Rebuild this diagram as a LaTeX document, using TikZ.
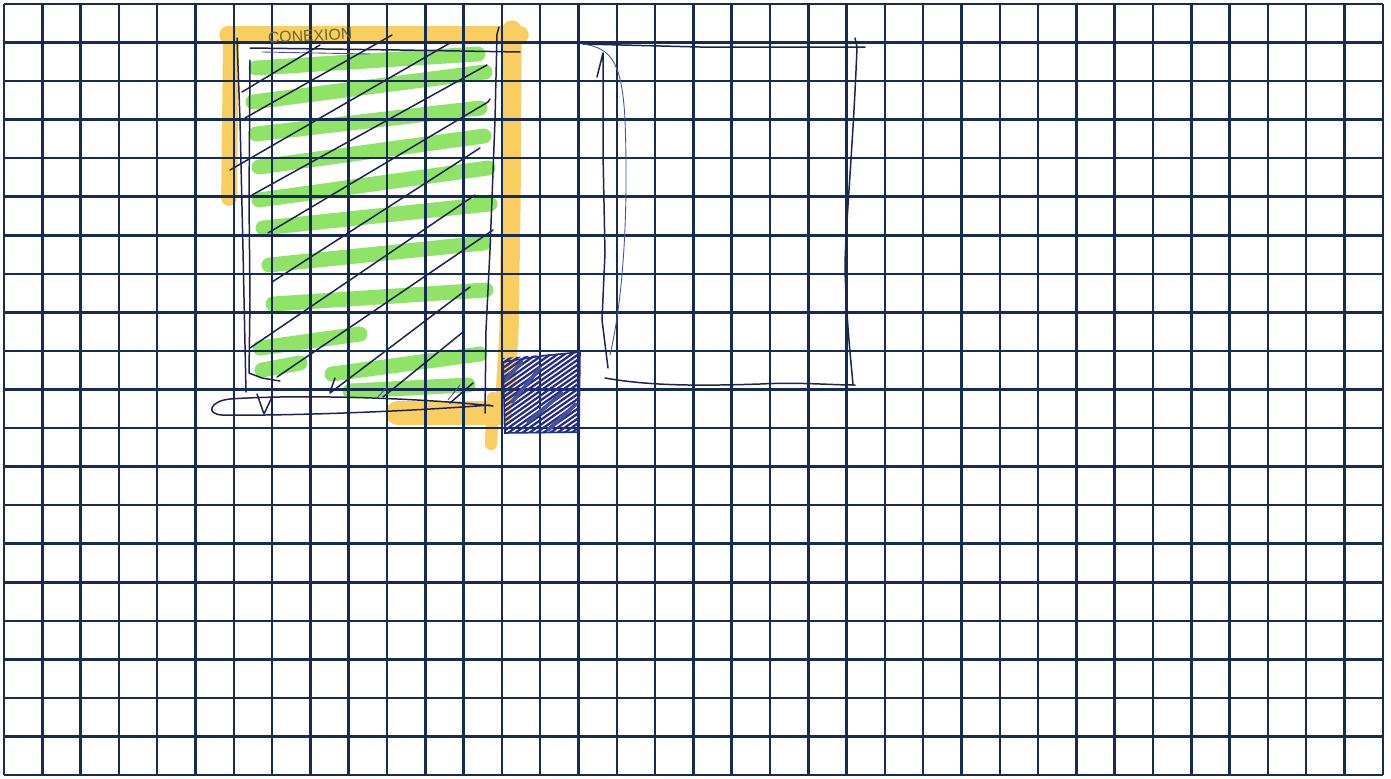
\documentclass[tikz,border=0pt]{standalone}
\usepackage{fontspec}
\setmainfont{Liberation Sans}
\definecolor{gridc}{RGB}{22,44,84}
\definecolor{penc}{RGB}{28,34,82}
\definecolor{penlight}{RGB}{70,80,160}
\definecolor{hatchc}{RGB}{36,46,138}
\definecolor{yellowhl}{RGB}{249,206,96}
\definecolor{greenhl}{RGB}{128,224,82}
\definecolor{textc}{RGB}{105,105,40}
\tikzset{
  gridline/.style={gridc, line width=1.45pt},
  pen/.style={penc, line width=0.85pt, line cap=round, line join=round},
  penthin/.style={penlight, line width=0.5pt, line cap=round, line join=round},
  yhl/.style={yellowhl, line cap=round, line join=round},
  ghl/.style={greenhl, line width=8.5pt, line cap=round, opacity=0.88},
  hatchpen/.style={hatchc, line width=1.3pt, line cap=round},
  label/.style={textc, font=\fontsize{9}{10}\selectfont, inner sep=0pt}
}
\begin{document}
\begin{tikzpicture}[x=0.02cm, y=-0.02cm]
\useasboundingbox (0,0) rectangle (1391,778);
\fill[white] (0,0) rectangle (1391,778);

% yellow highlighter frame
\draw[yhl, line width=10pt] (228,35) -- (520,35);
\draw[yhl, line width=11pt] (512,30) -- (511,200) -- (509,330) -- (505,400);
\draw[yhl, line width=9pt] (231,36) -- (230,120) -- (229,198);
\draw[yhl, line width=14pt] (398,413) -- (500,413);
\draw[yhl, line width=7pt] (493,398) -- (491,444);

% green highlighter strokes
\draw[ghl] (256,68) -- (478,54);
\draw[ghl] (253,102) -- (485,72);
\draw[ghl] (256,134) -- (480,108);
\draw[ghl] (259,167) -- (484,136);
\draw[ghl] (259,200) -- (488,168);
\draw[ghl] (263,228) -- (490,204);
\draw[ghl] (269,265) -- (484,243);
\draw[ghl] (273,304) -- (486,290);
\draw[ghl] (260,348) -- (360,334);
\draw[ghl] (332,374) -- (480,354);
\draw[ghl] (262,370) -- (300,363);
\draw[ghl] (350,391) -- (468,385);

% grid
\foreach \i in {0,...,36} \draw[gridline] ({4+38.3*\i},4) -- ({4+38.3*\i},775);
\foreach \j in {0,...,20} \draw[gridline] (4,{4+38.55*\j}) -- (1383,{4+38.55*\j});

% label
\node[label, anchor=south west, rotate=3] (conexion) at (268,44) {CONEXION};

% left rectangle pen outline
\draw[pen] (250,48) -- (400,50) -- (520,52);
\draw[penthin] (262,52) -- (370,54);
\draw[pen] (499,27) -- (497,34) -- (495,120) -- (490,250) -- (486,330) -- (485,413);
\draw[pen] (237,38) -- (240,120) -- (243,250) -- (246,392);
\draw[pen] (250,60) -- (249,200) -- (250,300) -- (249,373) -- (262,378) -- (280,381);
\draw[pen] (490,405) .. controls (400,412) and (280,416) .. (222,415)
  .. controls (205,414) and (210,401) .. (230,399)
  .. controls (300,394) and (420,398) .. (493,406);
\draw[pen] (257,394) -- (264,414) -- (272,397);

% diagonal hatch lines
\draw[pen] (242,92) -- (320,45);
\draw[pen] (245,118) -- (392,35);
\draw[pen] (230,170) -- (450,43);
\draw[pen] (252,195) -- (487,65);
\draw[pen] (268,233) -- (488,102) -- (490,99);
\draw[pen] (272,282) -- (480,148);
\draw[pen] (250,348) -- (475,195);
\draw[pen] (277,377) -- (493,230);
\draw[pen] (330,393) -- (470,287);
\draw[pen] (383,397) -- (463,332);
\draw[pen] (450,403) -- (473,383);
\draw[penthin] (377,398) -- (387,387);
\draw[penthin] (448,400) -- (460,385);
\draw[pen] (330,392) -- (335,378);

% hatched blue square
\begin{scope}
\clip (503,358) -- (580,352) -- (579,433) -- (505,433) -- cycle;
\foreach \k in {0,...,28} \draw[hatchpen] ({372+7*\k},440) -- ++(160,-112);
\draw[penlight, line width=2.2pt, line cap=round] (512,402) -- (540,368) (528,422) -- (562,393) (548,430) -- (576,404) (505,380) -- (522,362);
\end{scope}
\draw[hatchpen, line width=0.9pt] (503,362) -- (541,356) -- (580,352) -- (579,432) -- (505,433) -- cycle;

% right rectangle
\draw[pen] (583,44) -- (700,47) -- (857,47) -- (865,47);
\draw[pen] (855,38) -- (857,47) .. controls (853,150) and (845,230) .. (845,270) .. controls (847,330) and (851,360) .. (853,385);
\draw[pen] (605,378) .. controls (650,386) and (700,386) .. (760,384) .. controls (800,382) and (830,385) .. (855,385);
\draw[penthin] (583,44) .. controls (610,48) and (622,60) .. (625,120) .. controls (628,200) and (625,290) .. (610,355);
\draw[pen] (597,77) -- (603,53) -- (603,153) -- (605,253) -- (602,320) -- (608,368);
\end{tikzpicture}
\end{document}
